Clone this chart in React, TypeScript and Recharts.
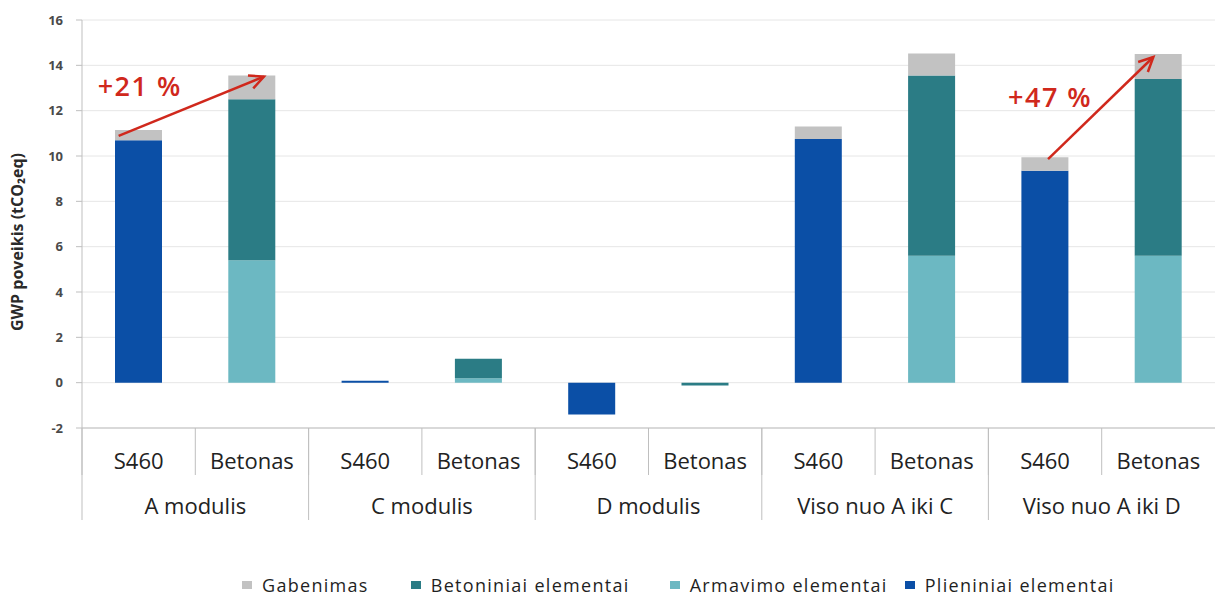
import React from 'react';
import {
    BarChart,
    Bar,
    XAxis,
    YAxis,
    CartesianGrid,
    ReferenceLine,
} from 'recharts';

// categories (one bar each) and their two-level labels
const ids = ['A-S460', 'A-Betonas', 'C-S460', 'C-Betonas', 'D-S460', 'D-Betonas', 'AC-S460', 'AC-Betonas', 'AD-S460', 'AD-Betonas'];
const subLabels = ['S460', 'Betonas', 'S460', 'Betonas', 'S460', 'Betonas', 'S460', 'Betonas', 'S460', 'Betonas'];
const groupLabels = ['A modulis', 'C modulis', 'D modulis', 'Viso nuo A iki C', 'Viso nuo A iki D'];

// series values, tCO2eq
const plieniniai = [10.7, 0, 0.08, 0, -1.4, 0, 10.75, 0, 9.35, 0];
const armavimo = [0, 5.4, 0, 0.2, 0, 0, 0, 5.6, 0, 5.6];
const betoniniai = [0, 7.1, 0, 0.85, 0, -0.12, 0, 7.95, 0, 7.8];
const gabenimas = [0.45, 1.05, 0, 0, 0, 0, 0.55, 0.97, 0.6, 1.1];

const yTicks = [-2, 0, 2, 4, 6, 8, 10, 12, 14, 16];

const data = ids.map((id, i) => ({
    id,
    plieniniai: plieniniai[i],
    armavimo: armavimo[i],
    betoniniai: betoniniai[i],
    gabenimas: gabenimas[i],
}));

// top of a stacked bar (positive part)
const total = (i: number) =>
    [plieniniai[i], armavimo[i], betoniniai[i], gabenimas[i]].filter(v => v > 0).reduce((s, v) => s + v, 0);

// growth arrows: from S460 to Betonas
const arrows = [
    { from: 0, to: 1, text: '+21 %', sx: -20, sy: 6, ex: 12, ey: 1, tx: -41, ty: -34 },
    { from: 8, to: 9, text: '+47 %', sx: 3, sy: 2, ex: -5, ey: 3, tx: -37, ty: -50 },
];

const COLORS = {
    gabenimas: '#c2c2c2',
    betoniniai: '#2b7c85',
    armavimo: '#6cb8c2',
    plieniniai: '#0b4fa6',
};

const legendItems = [
    { name: 'Gabenimas', color: COLORS.gabenimas, gap: 42 },
    { name: 'Betoniniai elementai', color: COLORS.betoniniai, gap: 40 },
    { name: 'Armavimo elementai', color: COLORS.armavimo, gap: 17 },
    { name: 'Plieniniai elementai', color: COLORS.plieniniai, gap: 0 },
];

const CHART_W = 1222;
const CHART_H = 530;
const MARGIN = { top: 20, right: 7, left: 0, bottom: 10 };
const Y_W = 82;
const BAND = (CHART_W - MARGIN.left - MARGIN.right - Y_W) / ids.length;
const SUB_H = 47;
const GROUP_H = 45;
const FONT = '"Open Sans", "DejaVu Sans", sans-serif';
const AXIS_GRAY = '#bfbfbf';
const RED = '#d0281c';

const SubTick = (props: any) => {
    const { x, y, payload } = props;
    const i = ids.indexOf(payload.value);
    return (
        <g>
            <line x1={x - BAND / 2} x2={x - BAND / 2} y1={y} y2={y + SUB_H} stroke={AXIS_GRAY} />
            <text x={x} y={y + 41} textAnchor="middle" fontSize={22} fill="#222" fontFamily={FONT}>
                {subLabels[i]}
            </text>
        </g>
    );
};

const GroupTick = (props: any) => {
    const { x, y, payload } = props;
    const i = ids.indexOf(payload.value);
    if (i % 2 !== 0) return <g />;
    return (
        <g>
            <line x1={x - BAND / 2} x2={x - BAND / 2} y1={y - SUB_H} y2={y + GROUP_H} stroke={AXIS_GRAY} />
            <text x={x + BAND / 2} y={y + 39} textAnchor="middle" fontSize={22} fill="#222" fontFamily={FONT}>
                {groupLabels[i / 2]}
            </text>
        </g>
    );
};

const YLabel = (props: any) => {
    const vb = props.viewBox;
    const cx = 17;
    const cy = vb.y + vb.height / 2 + 18;
    return (
        <text
            x={cx}
            y={cy}
            transform={`rotate(-90 ${cx} ${cy})`}
            textAnchor="middle"
            dominantBaseline="central"
            fontSize={16}
            fontWeight={700}
            fill="#2a2a2a"
            fontFamily={FONT}
        >
            GWP poveikis (tCO₂eq)
        </text>
    );
};

const makeArrow = (a: typeof arrows[number]) => (p: any) => {
    const x1 = p.x1 + a.sx;
    const y1 = p.y1 + a.sy;
    const x2 = p.x2 + a.ex;
    const y2 = p.y2 + a.ey;
    const ang = Math.atan2(y2 - y1, x2 - x1);
    const h = 16;
    const spread = 0.45;
    const hx1 = x2 - h * Math.cos(ang - spread);
    const hy1 = y2 - h * Math.sin(ang - spread);
    const hx2 = x2 - h * Math.cos(ang + spread);
    const hy2 = y2 - h * Math.sin(ang + spread);
    return (
        <g>
            <line x1={x1} y1={y1} x2={x2} y2={y2} stroke={RED} strokeWidth={2.5} />
            <polyline
                points={`${hx1},${hy1} ${x2},${y2} ${hx2},${hy2}`}
                fill="none"
                stroke={RED}
                strokeWidth={2.5}
                strokeLinejoin="miter"
            />
            <text
                x={p.x1 + a.tx}
                y={p.y1 + a.ty}
                fontSize={27}
                fontWeight={600}
                letterSpacing={1.5}
                fill={RED}
                fontFamily={FONT}
            >
                {a.text}
            </text>
        </g>
    );
};

const App: React.FC = () => {
    return (
        <div style={{ position: 'absolute', left: 0, top: 0, width: 1222, height: 598, background: '#fff', fontFamily: FONT }}>
            <BarChart width={CHART_W} height={CHART_H} data={data} margin={MARGIN} stackOffset="sign">
                <CartesianGrid vertical={false} stroke="#e6e6e6" />
                <XAxis
                    dataKey="id"
                    height={SUB_H}
                    interval={0}
                    tickSize={0}
                    tickMargin={0}
                    tickLine={false}
                    axisLine={{ stroke: AXIS_GRAY }}
                    tick={SubTick}
                />
                <XAxis
                    xAxisId="group"
                    dataKey="id"
                    height={GROUP_H}
                    interval={0}
                    tickSize={0}
                    tickMargin={0}
                    tickLine={false}
                    axisLine={false}
                    tick={GroupTick}
                />
                <YAxis
                    width={Y_W}
                    domain={[-2, 16]}
                    ticks={yTicks}
                    interval={0}
                    tickSize={6}
                    tickMargin={13}
                    axisLine={{ stroke: AXIS_GRAY }}
                    tickLine={{ stroke: AXIS_GRAY }}
                    tick={{ fontSize: 13, fill: '#4a4a4a', fontWeight: 700, fontFamily: FONT }}
                    label={YLabel}
                />
                <Bar dataKey="plieniniai" stackId="a" fill={COLORS.plieniniai} barSize={47} isAnimationActive={false} />
                <Bar dataKey="armavimo" stackId="a" fill={COLORS.armavimo} barSize={47} isAnimationActive={false} />
                <Bar dataKey="betoniniai" stackId="a" fill={COLORS.betoniniai} barSize={47} isAnimationActive={false} />
                <Bar dataKey="gabenimas" stackId="a" fill={COLORS.gabenimas} barSize={47} isAnimationActive={false} />
                {arrows.map(a => (
                    <ReferenceLine
                        key={a.text}
                        segment={[
                            { x: ids[a.from], y: total(a.from) },
                            { x: ids[a.to], y: total(a.to) },
                        ]}
                        ifOverflow="visible"
                        shape={makeArrow(a)}
                    />
                ))}
            </BarChart>
            <div
                style={{
                    position: 'absolute',
                    top: 573,
                    left: 242,
                    display: 'flex',
                    alignItems: 'center',
                    fontSize: 18,
                    letterSpacing: 1.3,
                    color: '#1f1f1f',
                    whiteSpace: 'nowrap',
                }}
            >
                {legendItems.map(item => (
                    <div key={item.name} style={{ display: 'flex', alignItems: 'center', marginRight: item.gap }}>
                        <span style={{ display: 'inline-block', width: 10, height: 8, background: item.color, marginRight: 10 }} />
                        <span>{item.name}</span>
                    </div>
                ))}
            </div>
        </div>
    );
};

export default App;
